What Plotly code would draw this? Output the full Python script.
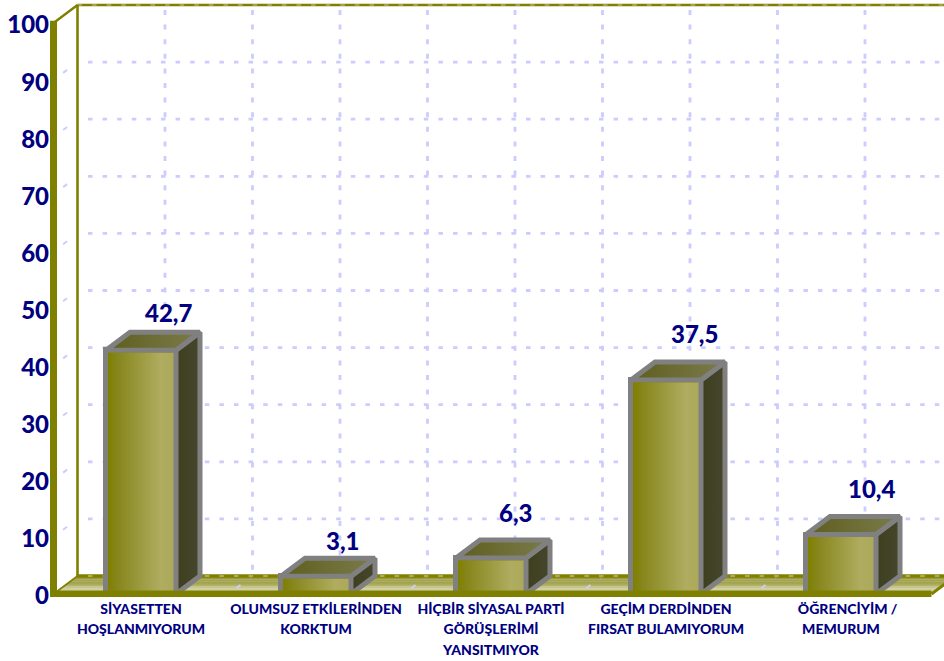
import plotly.graph_objects as go

CATEGORIES = [
    ["SİYASETTEN", "HOŞLANMIYORUM"],
    ["OLUMSUZ ETKİLERİNDEN", "KORKTUM"],
    ["HİÇBİR SİYASAL PARTİ", "GÖRÜŞLERİMİ", "YANSITMIYOR"],
    ["GEÇİM DERDİNDEN", "FIRSAT BULAMIYORUM"],
    ["\u00a0\u00a0\u00a0\u00a0ÖĞRENCİYİM /", "MEMURUM"],
]
VALUES = [42.7, 3.1, 6.3, 37.5, 10.4]
Y_TICKS = [0, 10, 20, 30, 40, 50, 60, 70, 80, 90, 100]

# label nudges (px)
LABEL_SHIFT_X = [28, 27, 25, 28, 31]
LABEL_SHIFT_Y = [38, 36, 46, 46, 46]

W, H = 944, 661
ML, MB = 50, 64
X0_PX = 53.5     # pixel of x = 0
Y0_PX = 594.0    # pixel of value 0
PX_PER_X = 175.0
PX_PER_V = 5.71
DX = 24 / PX_PER_X   # depth in x units
DV = 18 / PX_PER_V   # depth in value units
BAR_W = 70 / PX_PER_X
LW = 5
FONT = "Lato"
NAVY = "#000080"
OLIVE = "#808000"
GRID = "#ccccff"
GRAY = "#808080"
XMAX = (W - X0_PX) / PX_PER_X
XEND = (931.5 - X0_PX) / PX_PER_X


def line_shape(x0, y0, x1, y1, color, width, dash=None, layer="below"):
    ln = dict(color=color, width=width)
    if dash:
        ln["dash"] = dash
    return dict(type="line", xref="x", yref="y", x0=x0, y0=y0, x1=x1, y1=y1, line=ln, layer=layer)


def lerp(c0, c1, t):
    return "rgb(%d,%d,%d)" % tuple(round(a + (b - a) * t) for a, b in zip(c0, c1))


shapes = []

# floor: vertical fade as thin strips
FLOOR_BACK = (128, 128, 10)
FLOOR_FRONT = (222, 222, 190)
N = 16
for k in range(N):
    t0, t1 = k / N, (k + 1.2) / N
    v0, v1 = DV * (1 - t0), DV * (1 - min(t1, 1))
    x0a = DX * (1 - t0)
    x0b = DX * (1 - min(t1, 1))
    path = (f"M {x0a},{v0} L {XEND + DX * (1 - t0)},{v0} "
            f"L {XEND + DX * (1 - min(t1, 1))},{v1} L {x0b},{v1} Z")
    shapes.append(dict(type="path", xref="x", yref="y", path=path,
                       fillcolor=lerp(FLOOR_BACK, FLOOR_FRONT, (k + 0.5) / N),
                       line=dict(width=0), layer="below"))

# back wall grid
for v in Y_TICKS[1:-1]:
    shapes.append(line_shape(DX + 10.5 / PX_PER_X, v + DV, XMAX + 0.1, v + DV, GRID, 2.8, "4.5px,10.1px"))
for k in range(1, 10):
    xg = DX + k * 0.5
    shapes.append(line_shape(xg, 100 + DV - 5 / PX_PER_V, xg, DV, GRID, 2.8, "5px,9.6px"))
    # floor projection of the vertical grid
    shapes.append(line_shape(xg, DV, k * 0.5, 0, GRID, 2, "3px,12px,5px,40px"))

# side wall grid ticks
for v in Y_TICKS[1:-1]:
    shapes.append(line_shape(DX, v + DV, 0, v, GRID, 2, "0px,13px,5px,40px"))

# back wall outline
shapes.append(line_shape(DX, 100 + DV, XMAX + 0.1, 100 + DV, OLIVE, 2.6))
shapes.append(line_shape(DX, 100 + DV, XMAX + 0.1, 100 + DV, "#a3a350", 2.0, "4.5px,10.1px"))
shapes.append(line_shape(DX, DV, DX, 100 + DV, OLIVE, 2.6))
shapes.append(line_shape(0, 100, DX, 100 + DV, OLIVE, 2.4))
shapes.append(line_shape(DX, DV, XEND + DX, DV, OLIVE, 3.5))
shapes.append(line_shape(XEND, 0, XEND + DX, DV, OLIVE, 3))
shapes.append(line_shape(DX, DV, 0, 0, OLIVE, 1.6))
# light dashes on the floor's back edge
shapes.append(line_shape(DX + 10.5 / PX_PER_X, DV, XMAX + 0.1, DV, "#d8d8c0", 1, "4.5px,10.1px"))

# front axis and floor band, above the bars
shapes.append(line_shape(0, -0.6, 0, 100.4, OLIVE, 7, layer="above"))
shapes.append(line_shape(-0.02, 0, XEND, 0, OLIVE, 7, layer="above"))

fig = go.Figure()

centers = [i + 0.5 for i in range(len(VALUES))]

fig.add_trace(go.Bar(
    x=centers, y=VALUES, width=BAR_W, base=0,
    marker=dict(color=OLIVE, line=dict(color=GRAY, width=LW)),
    hovertemplate="%{y}<extra></extra>", showlegend=False,
))


def poly(xs, ys, gradient=None, color=None, line=True):
    kw = dict(x=xs + xs[:1], y=ys + ys[:1], mode="lines", fill="toself",
              hoverinfo="skip", showlegend=False,
              line=dict(color=GRAY, width=LW if line else 0))
    if gradient:
        kw["fillgradient"] = dict(type="horizontal", colorscale=gradient)
    if color:
        kw["fillcolor"] = color
    fig.add_trace(go.Scatter(**kw))


FACE = [[0, "#808000"], [0.12, "#85851a"], [0.8, "#b0ac60"], [1, "#aca95a"]]
TOP = [[0, "#5e5e1e"], [1, "#7b7b4c"]]
SIDE = [[0, "#3e3e1e"], [1, "#46462e"]]
ix = (LW / 2) / PX_PER_X
iv = (LW / 2) / PX_PER_V

for c, v in zip(centers, VALUES):
    x0, x1 = c - BAR_W / 2, c + BAR_W / 2
    poly([x1, x1 + DX, x1 + DX, x1], [0, DV, v + DV, v], gradient=SIDE)
    poly([x0, x1, x1 + DX, x0 + DX], [v, v, v + DV, v + DV], gradient=TOP)
    poly([x0 + ix, x1 - ix, x1 - ix, x0 + ix], [0, 0, v - iv, v - iv], gradient=FACE, line=False)

annotations = [
    dict(x=c, y=v, xref="x", yref="y", text=f"{v:.1f}".replace(".", ","),
         showarrow=False, xshift=sx, yshift=sy,
         font=dict(family=FONT, size=24, color=NAVY, weight=900))
    for c, v, sx, sy in zip(centers, VALUES, LABEL_SHIFT_X, LABEL_SHIFT_Y)
]

tick_text = [
    "<br>".join(f'<span style="font-size:14px">{line}</span>' for line in lines)
    for lines in CATEGORIES
]

fig.update_layout(
    width=W, height=H,
    margin=dict(l=ML, r=0, t=0, b=MB, pad=0),
    paper_bgcolor="white", plot_bgcolor="white",
    showlegend=False, bargap=0,
    shapes=shapes, annotations=annotations,
    xaxis=dict(
        range=[(ML - X0_PX) / PX_PER_X, XMAX],
        tickvals=centers, ticktext=tick_text,
        tickfont=dict(family=FONT, size=15.8, color=NAVY, weight=900),
        ticks="", ticklen=0, showgrid=False, zeroline=False, showline=False, tickangle=0,
        automargin=False,
    ),
    yaxis=dict(
        range=[(Y0_PX - (H - MB)) / PX_PER_V, Y0_PX / PX_PER_V],
        tickvals=Y_TICKS, ticklabelshift=2,
        tickfont=dict(family=FONT, size=24, color=NAVY, weight=900),
        ticks="", ticklen=0, showgrid=False, zeroline=False, showline=False,
        automargin=False,
    ),
)

fig.write_html("out.html", config={"displayModeBar": False},
               post_script="document.body.style.margin='0';")
